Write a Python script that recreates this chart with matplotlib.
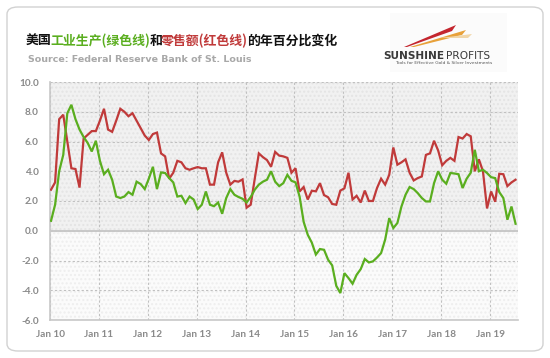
import numpy as np
import matplotlib
matplotlib.use("Agg")
import matplotlib.pyplot as plt
from matplotlib.patches import FancyBboxPatch, Polygon, Rectangle

# ---------------- data (YoY %, monthly from Jan 2010) ----------------
retail_sales = [2.76, 3.25, 7.5, 7.8, 6.0, 4.2, 4.15, 2.9, 6.2, 6.45, 6.7, 6.7,
                7.4, 8.2, 6.8, 6.65, 7.4, 8.2, 8.0, 7.7, 7.9, 7.4, 6.9, 6.4,
                6.1, 6.5, 6.6, 5.2, 5.0, 3.5, 3.9, 4.7, 4.6, 4.2, 4.1, 4.2,
                4.28, 4.2, 4.2, 3.1, 3.1, 4.6, 5.27, 3.9, 3.1, 3.35, 3.3, 3.45,
                1.55, 1.75, 3.5, 5.2, 4.95, 4.75, 4.3, 5.3, 5.05, 5.0, 4.9, 3.9,
                4.2, 2.64, 2.94, 2.1, 2.69, 2.65, 3.2, 2.4, 2.25, 1.8, 1.75, 2.7,
                2.85, 3.9, 2.1, 2.35, 1.9, 2.7, 2.0, 2.0, 2.87, 3.5, 3.1, 3.76,
                5.6, 4.44, 4.6, 4.8, 3.9, 3.38, 3.54, 3.65, 5.1, 5.2, 6.05, 5.4,
                4.4, 4.7, 4.9, 4.7, 6.3, 6.2, 6.5, 6.35, 4.0, 4.8, 4.0, 1.5,
                2.64, 1.95, 3.83, 3.8, 3.0, 3.25, 3.43]
industrial_production = [0.67, 1.75, 4.0, 5.1, 7.9, 8.47, 7.5, 6.8, 6.3, 5.9, 5.33, 6.05,
                         4.7, 3.8, 4.1, 3.43, 2.3, 2.2, 2.3, 2.6, 2.42, 3.3, 3.14, 2.8,
                         3.5, 4.3, 2.8, 3.92, 3.88, 3.54, 3.25, 2.3, 2.35, 1.86, 2.3, 2.1,
                         1.46, 1.75, 2.64, 1.75, 1.65, 1.9, 1.14, 2.2, 2.8, 2.42, 2.27, 2.15,
                         1.9, 2.27, 2.76, 3.1, 3.3, 3.43, 4.0, 3.3, 3.0, 3.2, 3.76, 3.36,
                         3.25, 2.3, 0.6, -0.27, -0.8, -1.6, -1.23, -1.28, -1.95, -2.33, -3.7, -4.19,
                         -2.85, -3.18, -3.56, -2.96, -2.58, -1.9, -2.13, -2.06, -1.8, -1.5, -0.6, 0.85,
                         0.18, 0.52, 1.63, 2.42, 2.94, 2.8, 2.53, 2.2, 1.97, 1.97, 3.2, 4.0,
                         3.43, 3.16, 3.88, 3.85, 3.8, 2.87, 3.5, 3.9, 5.44, 4.0, 4.1, 3.88,
                         3.6, 3.54, 2.6, 2.2, 0.74, 1.63, 0.47]
x_tick_labels = ["Jan 10", "Jan 11", "Jan 12", "Jan 13", "Jan 14",
                 "Jan 15", "Jan 16", "Jan 17", "Jan 18", "Jan 19"]
y_ticks = [-6, -4, -2, 0, 2, 4, 6, 8, 10]

GREEN = "#5aae1f"
RED = "#c03a3a"
GRAY_TXT = "#8a8a8a"

plt.rcParams['font.family'] = ['Noto Sans CJK SC', 'DejaVu Sans']

W, H = 550, 358
fig = plt.figure(figsize=(W / 100, H / 100), dpi=100)
fig.patch.set_facecolor("white")

def fx(px):
    return px / W

def fy(py):
    return 1 - py / H

# card
card = FancyBboxPatch((fx(7), fy(351)), fx(536), (344) / H,
                      boxstyle="round,pad=0,rounding_size=0.02",
                      transform=fig.transFigure, facecolor="white",
                      edgecolor="#d2d2d2", linewidth=1.0, zorder=0)
fig.patches.append(card)

# logo area
fig.patches.append(Rectangle((fx(390), fy(72)), fx(117), 59 / H, transform=fig.transFigure,
                             facecolor="#fbfbfb", edgecolor="none", zorder=1))
fig.patches.append(Polygon([(fx(404), fy(47)), (fx(456), fy(25)), (fx(452), fy(31)), (fx(407), fy(47))],
                           closed=True, transform=fig.transFigure, facecolor="#c4262e",
                           edgecolor="none", zorder=2))
fig.patches.append(Polygon([(fx(410), fy(47)), (fx(466), fy(30)), (fx(462), fy(35)), (fx(414), fy(47))],
                           closed=True, transform=fig.transFigure, facecolor="#e8a13a",
                           edgecolor="none", zorder=2))
fig.patches.append(Polygon([(fx(440), fy(38)), (fx(472), fy(34)), (fx(468), fy(38))],
                           closed=True, transform=fig.transFigure, facecolor="#f1d6a8",
                           edgecolor="none", zorder=2))
fig.text(fx(444), fy(56), "SUNSHINE", ha="right", va="center", fontsize=7.6,
         fontweight="bold", color="#3a3a3a", family=["DejaVu Sans"])
fig.text(fx(446), fy(56), "PROFITS", ha="left", va="center", fontsize=7.6,
         color="#3a3a3a", family=["DejaVu Sans"])
fig.text(fx(444), fy(63.5), "Tools for Effective Gold & Silver Investments", ha="center",
         va="center", fontsize=3.2, color="#555555", family=["DejaVu Sans"])

# title (multi-coloured)
title_parts = [("美国", "#111111"), ("工业生产(绿色线)", GREEN), ("和", "#111111"),
               ("零售额(红色线)", RED), ("的年百分比变化", "#111111")]
renderer = fig.canvas.get_renderer()
xpos = fx(26)
for txt, col in title_parts:
    t = fig.text(xpos, fy(41), txt, ha="left", va="center", fontsize=9.3,
                 fontweight="bold", color=col)
    bb = t.get_window_extent(renderer=renderer)
    xpos += (bb.width - 1.2) / fig.bbox.width

fig.text(fx(28), fy(60), "Source: Federal Reserve Bank of St. Louis", ha="left",
         va="center", fontsize=6.8, fontweight="bold", color="#a8a8a8",
         family=["DejaVu Sans"])

# ---------------- main axes ----------------
left, right, top, bottom = 50, 518, 82, 320
ax = fig.add_axes([fx(left), fy(bottom), fx(right - left), (bottom - top) / H])
ax.set_facecolor("#fafafa")
ax.set_zorder(3)

months = np.arange(len(retail_sales))
xs = months + 0.25

ax.set_xlim(0, 114.85)
ax.set_ylim(-6, 10)

ax.axhspan(0, 10, facecolor="#f1f1f1", edgecolor="#e4e4e4", hatch="....",
           linewidth=0, zorder=0)
ax.axhspan(-6, 0, facecolor="#fbfbfb", edgecolor="#eeeeee", hatch="....",
           linewidth=0, zorder=0)

ax.set_xticks(np.arange(0, 120, 12))
ax.set_xticklabels(x_tick_labels)
ax.set_yticks(y_ticks)
ax.set_yticklabels([f"{v:.1f}" for v in y_ticks])

ax.grid(True, color="#c0c0c0", linestyle=(0, (2, 2)), linewidth=0.8, zorder=1)
ax.axhline(0, color="#c8c8c8", linewidth=1.4, zorder=2)

for s in ["top", "right"]:
    ax.spines[s].set_visible(False)
ax.spines["left"].set_color("#c8c8c8")
ax.spines["bottom"].set_color("#c8c8c8")
ax.spines["left"].set_linewidth(1.2)
ax.spines["bottom"].set_linewidth(1.2)

ax.tick_params(axis="both", length=0, colors=GRAY_TXT, labelsize=7.2)
ax.tick_params(axis="x", pad=7)
ax.tick_params(axis="y", pad=8)
for lab in ax.get_xticklabels() + ax.get_yticklabels():
    lab.set_family(["Lato", "DejaVu Sans"])
    lab.set_fontweight("bold")
    lab.set_color(GRAY_TXT)

ax.plot(xs, retail_sales, color=RED, linewidth=1.6, zorder=4, solid_joinstyle="miter")
ax.plot(xs, industrial_production, color=GREEN, linewidth=1.6, zorder=5, solid_joinstyle="miter")

fig.savefig("out.png", dpi=100, facecolor="white")
